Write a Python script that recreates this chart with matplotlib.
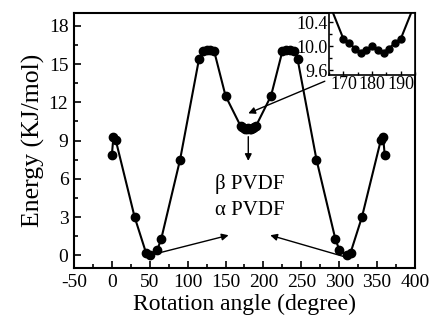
import matplotlib
matplotlib.use("Agg")
import matplotlib.pyplot as plt
from matplotlib.ticker import MultipleLocator

plt.rcParams['font.family'] = ['Liberation Serif', 'DejaVu Serif']

# Main curve data (rotation angle in degree, energy in KJ/mol)
angle = [0, 2, 5, 30, 45, 50, 60, 65, 90, 115, 120, 125, 130, 135, 150,
         170, 172, 174, 176, 178, 180, 182, 184, 186, 188, 190,
         210, 225, 230, 235, 240, 245, 270, 295, 300, 310, 315, 330, 355, 358, 360]
energy = [7.9, 9.25, 9.05, 3.0, 0.2, 0.02, 0.45, 1.25, 7.5, 15.4, 16.0, 16.1, 16.1, 16.0, 12.5,
          10.12, 10.06, 9.96, 9.89, 9.93, 10.01, 9.93, 9.89, 9.96, 10.06, 10.12,
          12.5, 16.0, 16.1, 16.1, 16.0, 15.4, 7.5, 1.25, 0.45, 0.02, 0.2, 3.0, 9.05, 9.25, 7.9]

x_ticks = [-50, 0, 50, 100, 150, 200, 250, 300, 350, 400]
y_ticks = [0, 3, 6, 9, 12, 15, 18]
inset_x_ticks = [170, 180, 190]
inset_y_ticks = [9.6, 10.0, 10.4]

fig = plt.figure(figsize=(4.33, 3.26), dpi=100)
ax = fig.add_axes([0.1709, 0.1779, 0.7875, 0.7822])
ax.plot(angle, energy, '-o', color='black', lw=1.5, ms=6)
ax.set_xlim(-50, 400)
ax.set_ylim(-1, 19)
ax.set_xticks(x_ticks)
ax.set_xticklabels([str(t) for t in x_ticks])
ax.set_yticks(y_ticks)
ax.xaxis.set_minor_locator(MultipleLocator(25))
ax.yaxis.set_minor_locator(MultipleLocator(1.5))
ax.tick_params(which='both', direction='in', labelsize=14, pad=4)
ax.tick_params(which='major', length=5, width=1.2)
ax.tick_params(which='minor', length=3, width=1.2)
for s in ax.spines.values():
    s.set_linewidth(1.5)
ax.set_xlabel('Rotation angle (degree)', fontsize=17, labelpad=2)
ax.set_ylabel('Energy (KJ/mol)', fontsize=18.5, labelpad=3)

ax.text(182, 5.6, 'β PVDF', fontsize=15, ha='center', va='center')
ax.text(182, 3.5, 'α PVDF', fontsize=15, ha='center', va='center')

ap = dict(arrowstyle='-|>', color='black', lw=1.0, mutation_scale=10, shrinkA=0, shrinkB=0)
ax.annotate('', xy=(180, 11.13), xytext=(281, 13.65), arrowprops=ap)
ax.annotate('', xy=(180, 7.4), xytext=(180, 9.3), arrowprops=ap)
ax.annotate('', xy=(154, 1.57), xytext=(50, 0.0), arrowprops=ap)
ax.annotate('', xy=(209, 1.57), xytext=(306, -0.1), arrowprops=ap)

# Inset
axi = fig.add_axes([0.760, 0.770, 0.1986, 0.190])
axi.plot(angle, energy, '-o', color='black', lw=1.5, ms=5)
axi.set_xlim(165, 195)
axi.set_ylim(9.52, 10.55)
axi.set_xticks(inset_x_ticks)
axi.set_yticks(inset_y_ticks)
axi.set_yticklabels(['%.1f' % t for t in inset_y_ticks])
axi.xaxis.set_minor_locator(MultipleLocator(5))
axi.yaxis.set_minor_locator(MultipleLocator(0.2))
axi.tick_params(which='both', direction='in', labelsize=13, pad=1)
axi.tick_params(which='major', length=3, width=1.0)
axi.tick_params(which='minor', length=2, width=1.0)
for s in axi.spines.values():
    s.set_linewidth(1.2)

fig.savefig('out.png', dpi=100)
